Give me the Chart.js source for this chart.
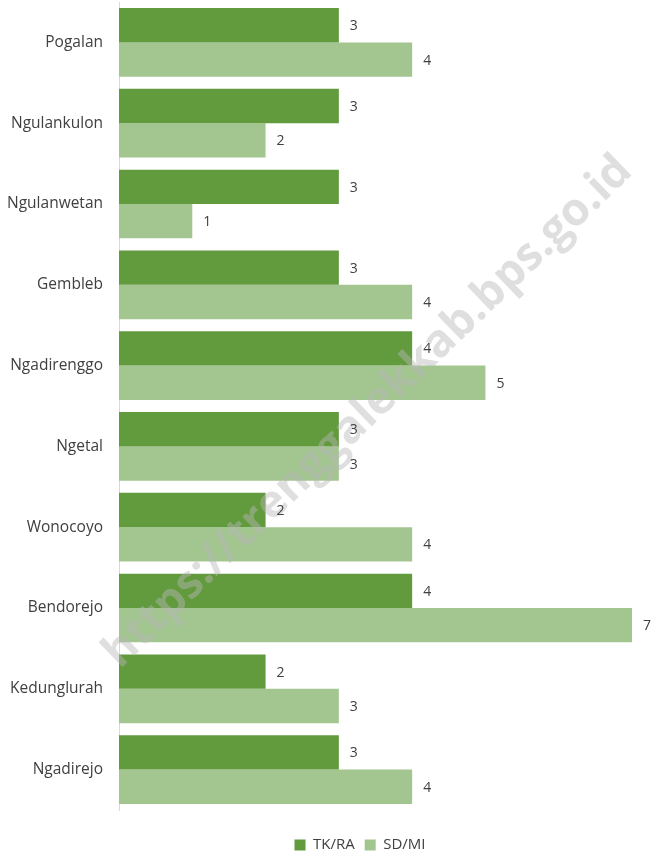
<!DOCTYPE html>
<html>
<head>
<meta charset="utf-8">
<script src="https://cdn.jsdelivr.net/npm/chart.js@4/dist/chart.umd.min.js"></script>
<style>
    html, body { margin: 0; padding: 0; background: #fff; }
    #wrap { width: 651px; height: 853px; }
</style>
</head>
<body>
<div id="wrap"><canvas id="chart" width="651" height="853"></canvas></div>
<script>
const desa = ['Pogalan', 'Ngulankulon', 'Ngulanwetan', 'Gembleb', 'Ngadirenggo',
    'Ngetal', 'Wonocoyo', 'Bendorejo', 'Kedunglurah', 'Ngadirejo'];
const tkRa = [3, 3, 3, 3, 4, 3, 2, 4, 2, 3];
const sdMi = [4, 2, 1, 4, 5, 3, 4, 7, 3, 4];
const watermarkText = 'https://trenggalekkab.bps.go.id';

const textColor = '#404040';
const fontFamily = '"Open Sans", "Noto Sans", sans-serif';

// value labels next to each bar
const valueLabels = {
    id: 'valueLabels',
    afterDatasetsDraw(chart) {
        const ctx = chart.ctx;
        ctx.save();
        ctx.font = '14px ' + fontFamily;
        ctx.fillStyle = textColor;
        ctx.textAlign = 'left';
        ctx.textBaseline = 'middle';
        chart.data.datasets.forEach(function (ds, i) {
            chart.getDatasetMeta(i).data.forEach(function (bar, j) {
                ctx.fillText(ds.data[j], bar.x + 11, bar.y + 1);
            });
        });
        ctx.restore();
    }
};

// diagonal watermark
const watermark = {
    id: 'watermark',
    afterDatasetsDraw(chart) {
        const ctx = chart.ctx;
        ctx.save();
        ctx.translate(368, 412);
        ctx.rotate(-44 * Math.PI / 180);
        let size = 34;
        ctx.font = 'bold ' + size + 'px ' + fontFamily;
        const w = ctx.measureText(watermarkText).width;
        size = size * 715 / w;
        ctx.font = 'bold ' + size + 'px ' + fontFamily;
        ctx.fillStyle = 'rgba(185, 185, 185, 0.45)';
        ctx.textAlign = 'center';
        ctx.textBaseline = 'middle';
        ctx.fillText(watermarkText, 0, 0);
        ctx.restore();
    }
};

// move the legend lower and a bit to the right, like the original
const legendShift = {
    id: 'legendShift',
    afterLayout(chart) {
        const lg = chart.legend;
        if (!lg) return;
        const dy = 845 - (lg.top + lg.bottom) / 2;
        lg.top += dy;
        lg.bottom += dy;
        lg.left += 44;
        lg.right += 44;
    }
};

new Chart(document.getElementById('chart'), {
    type: 'bar',
    data: {
        labels: desa,
        datasets: [
            {
                label: 'TK/RA',
                data: tkRa,
                backgroundColor: '#629a3e',
                categoryPercentage: 0.85,
                barPercentage: 1
            },
            {
                label: 'SD/MI',
                data: sdMi,
                backgroundColor: '#a3c590',
                categoryPercentage: 0.85,
                barPercentage: 1
            }
        ]
    },
    options: {
        indexAxis: 'y',
        responsive: false,
        animation: false,
        layout: { padding: { top: 2, right: 19, bottom: 8, left: 0 } },
        scales: {
            x: {
                display: false,
                min: 0,
                max: 7
            },
            y: {
                grid: { display: false, drawTicks: false },
                border: { display: true, color: '#d9d9d9', width: 1 },
                ticks: {
                    color: textColor,
                    font: { size: 15.5, family: fontFamily },
                    padding: 16
                },
                afterFit(scale) {
                    scale.width = 119;
                    scale.paddingTop = 0;
                    scale.paddingBottom = 0;
                }
            }
        },
        plugins: {
            legend: {
                position: 'bottom',
                labels: {
                    boxWidth: 11,
                    boxHeight: 11,
                    color: textColor,
                    font: { size: 15, family: fontFamily },
                    padding: 10
                }
            },
            tooltip: { enabled: false }
        }
    },
    plugins: [watermark, valueLabels, legendShift]
});
</script>
</body>
</html>
